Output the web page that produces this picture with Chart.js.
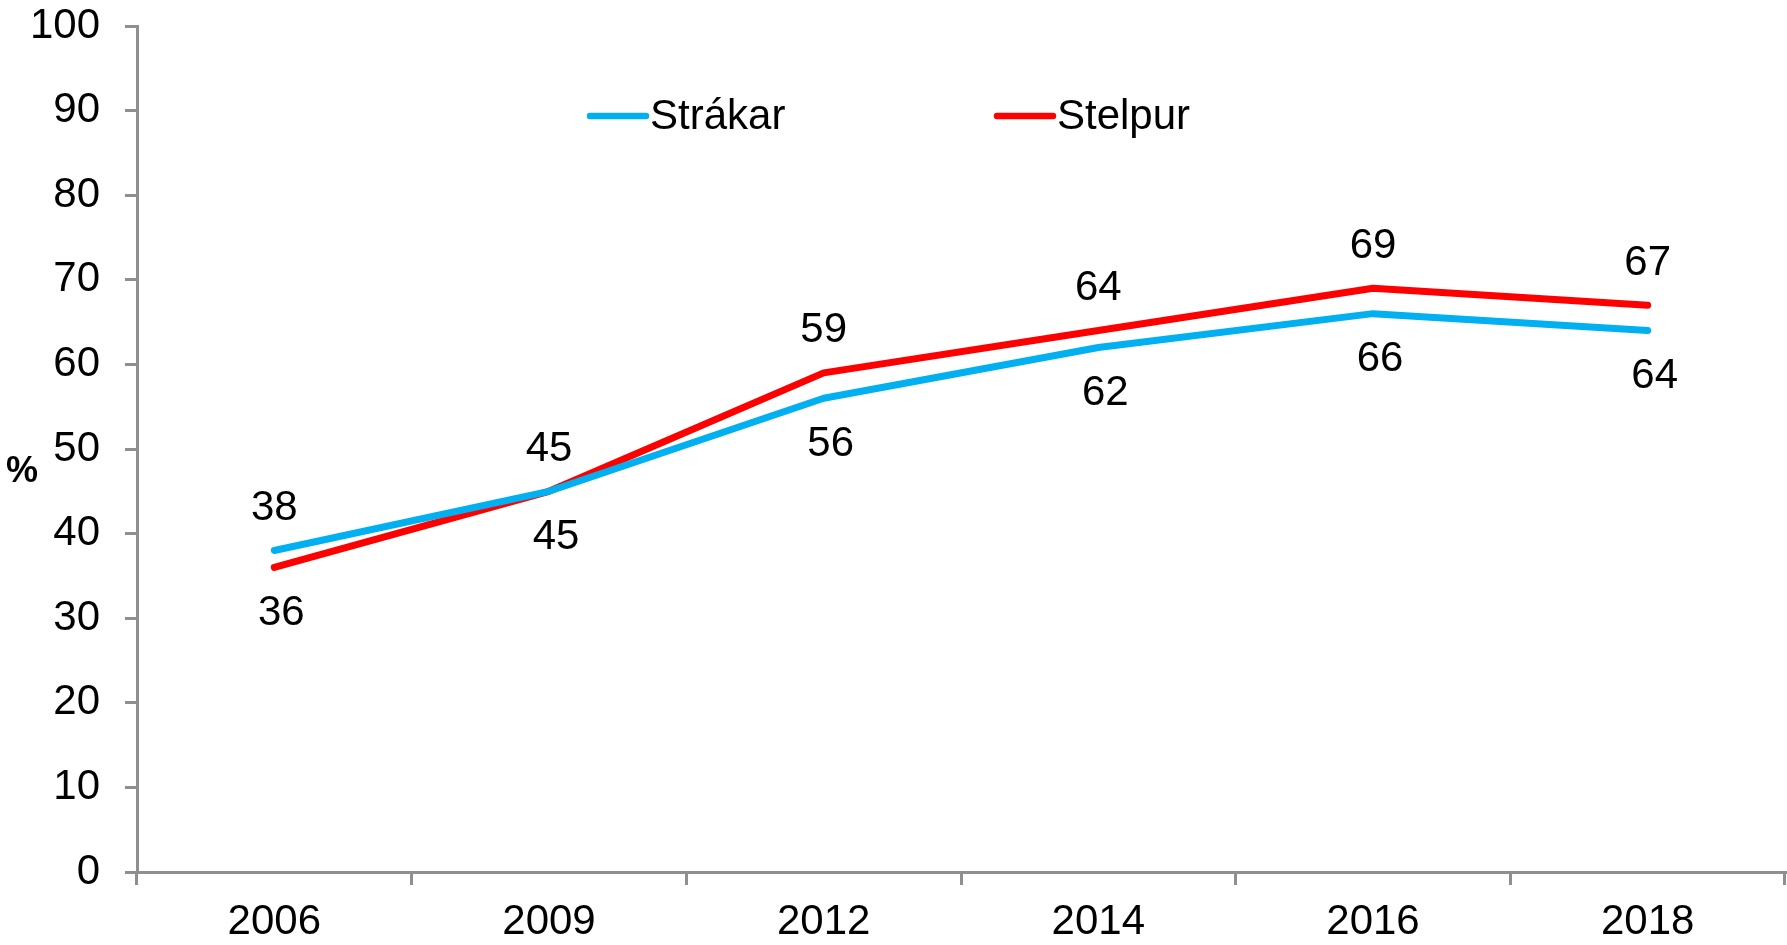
<!DOCTYPE html>
<html>
<head>
<meta charset="utf-8">
<script src="https://cdn.jsdelivr.net/npm/chart.js@4"></script>
<style>
html,body{margin:0;padding:0;background:#fff;}
#wrap{width:1787px;height:945px;position:relative;}
</style>
</head>
<body>
<div id="wrap"><canvas id="c"></canvas></div>
<script>
const categories = ['2006', '2009', '2012', '2014', '2016', '2018'];
const strakar = [38, 45, 56, 62, 66, 64];
const stelpur = [36, 45, 59, 64, 69, 67];
const strakarLabelPos = ['above', 'below', 'below', 'below', 'below', 'below'];
const stelpurLabelPos = ['below', 'above', 'above', 'above', 'above', 'above'];
const yTicks = [0, 10, 20, 30, 40, 50, 60, 70, 80, 90, 100];
const seriesNames = ['Strákar', 'Stelpur'];
const yTitle = '%';

const FONT = "'Liberation Sans', Arial, sans-serif";
const AXIS = '#8f8f8f';

const overlay = {
  id: 'overlay',
  afterDatasetsDraw(chart) {
    const ctx = chart.ctx;
    const ca = chart.chartArea;
    ctx.save();
    // data labels
    ctx.fillStyle = '#000';
    ctx.font = '42px ' + FONT;
    ctx.textAlign = 'center';
    ctx.textBaseline = 'middle';
    chart.data.datasets.forEach((ds, di) => {
      const meta = chart.getDatasetMeta(di);
      meta.data.forEach((pt, i) => {
        const pos = ds.labelPos[i];
        const dy = pos === 'above' ? -42 : 46;
        const dx = pos === 'above' ? 0 : 7;
        ctx.fillText(String(ds.data[i]), pt.x + dx, pt.y + dy);
      });
    });
    // legend
    ctx.font = '42px ' + FONT;
    ctx.textAlign = 'left';
    const ly = ca.top + 90;
    const items = [{x: ca.left + 453}, {x: ca.left + 860}];
    chart.data.datasets.forEach((ds, di) => {
      const x0 = items[di].x;
      ctx.strokeStyle = ds.borderColor;
      ctx.lineWidth = 6.5;
      ctx.lineCap = 'round';
      ctx.beginPath();
      ctx.moveTo(x0, ly);
      ctx.lineTo(x0 + 56, ly);
      ctx.stroke();
      ctx.fillStyle = '#000';
      ctx.fillText(ds.label, x0 + 60, ly + 1);
    });
    // y title
    ctx.font = 'bold 36px ' + FONT;
    ctx.textAlign = 'center';
    ctx.fillText(yTitle, 22, 472);
    ctx.restore();
  }
};

new Chart(document.getElementById('c'), {
  type: 'line',
  data: {
    labels: categories,
    datasets: [
      {label: seriesNames[0], data: strakar, labelPos: strakarLabelPos, borderColor: '#00B0F0', backgroundColor: '#00B0F0'},
      {label: seriesNames[1], data: stelpur, labelPos: stelpurLabelPos, borderColor: '#FF0000', backgroundColor: '#FF0000'}
    ]
  },
  options: {
    responsive: true,
    maintainAspectRatio: false,
    animation: false,
    events: [],
    layout: {padding: {top: 26, right: 2, left: 0, bottom: 0}},
    elements: {
      line: {borderWidth: 7, tension: 0, borderCapStyle: 'round', borderJoinStyle: 'round'},
      point: {radius: 0}
    },
    plugins: {legend: {display: false}, tooltip: {enabled: false}},
    scales: {
      x: {
        offset: true,
        grid: {offset: true, drawOnChartArea: false, drawTicks: true, tickLength: 13, color: AXIS, lineWidth: 3},
        border: {color: AXIS, width: 3},
        ticks: {color: '#000', font: {family: FONT, size: 42}, padding: 12, maxRotation: 0},
        afterFit(s) { s.height = 73; s.paddingLeft = 0; s.paddingRight = 0; }
      },
      y: {
        min: 0, max: 100,
        afterBuildTicks(s) { s.ticks = yTicks.map(v => ({value: v})); },
        grid: {drawOnChartArea: false, drawTicks: true, tickLength: 12, color: AXIS, lineWidth: 3},
        border: {color: AXIS, width: 3},
        ticks: {color: '#000', font: {family: FONT, size: 42}, padding: 25},
        afterFit(s) { s.width = 137; s.paddingTop = 0; s.paddingBottom = 0; }
      }
    }
  },
  plugins: [overlay]
});
</script>
</body>
</html>
